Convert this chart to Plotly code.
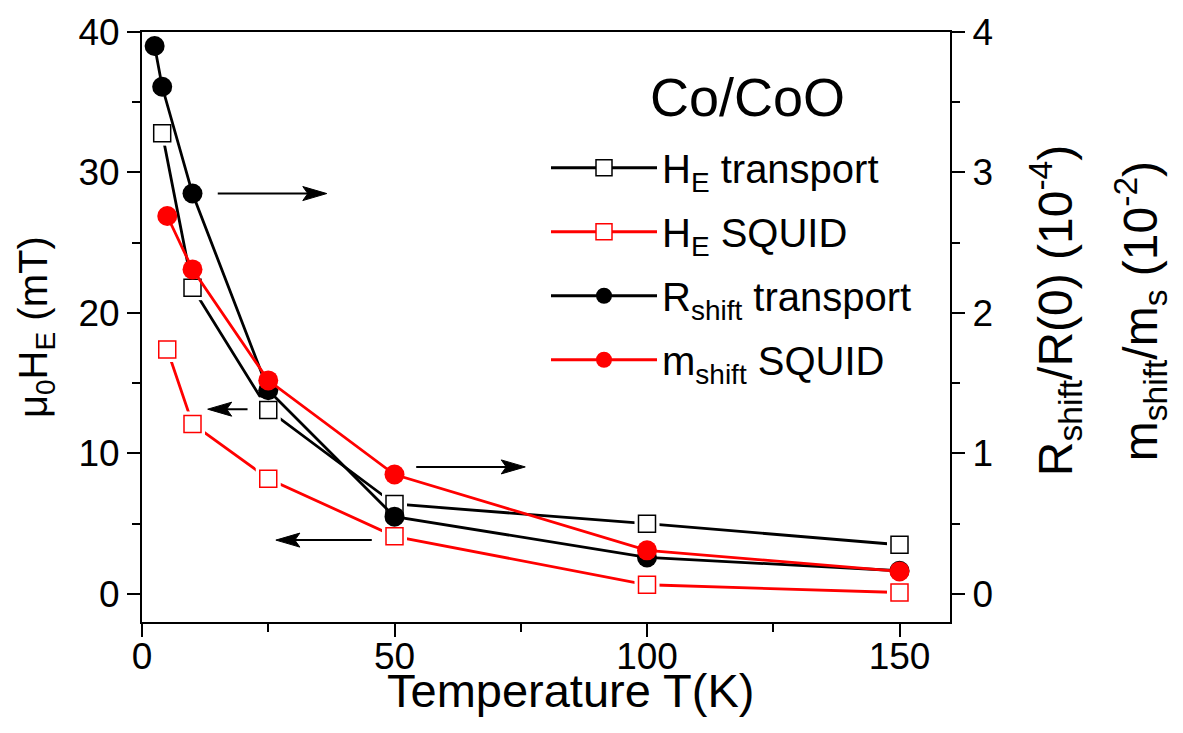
import plotly.graph_objects as go

# Exchange field from transport and SQUID (left axis, mT)
T_he_transport = [4, 10, 25, 50, 100, 150]
he_transport = [32.8, 21.8, 13.1, 6.4, 5.0, 3.5]
T_he_squid = [5, 10, 25, 50, 100, 150]
he_squid = [17.4, 12.1, 8.2, 4.1, 0.65, 0.1]

# Shift of resistance (1e-4) and magnetization (1e-2) (right axis)
T_r_shift = [2.5, 4, 10, 25, 50, 100, 150]
r_shift = [3.90, 3.61, 2.85, 1.45, 0.55, 0.26, 0.165]
T_m_shift = [5, 10, 25, 50, 100, 150]
m_shift = [2.69, 2.31, 1.52, 0.85, 0.31, 0.16]

# Arrows marking which axis a curve belongs to: (tail T, head T, level on left axis)
arrow_tail = [15.0, 20.9, 54.3, 45.5]
arrow_head = [35.8, 13.8, 75.1, 27.3]
arrow_level = [28.5, 13.15, 9.04, 3.83]

FONT = "Arial, Liberation Sans, sans-serif"
RED = "#ff0000"
BLACK = "#000000"

fig = go.Figure()

def square_series(x, y, color, name):
    # line + open squares; a white mask keeps the line off the square edges
    fig.add_trace(go.Scatter(
        x=x, y=y, mode="lines+markers", name=name, legendgroup=name,
        line=dict(color=color, width=2.8),
        marker=dict(symbol="square", size=17, color="white",
                    line=dict(color=color, width=1.5)),
        hoverinfo="skip"))
    fig.add_trace(go.Scatter(
        x=x, y=y, mode="markers", showlegend=False,
        marker=dict(symbol="square", size=25, color="white", line=dict(width=0)),
        hoverinfo="skip"))
    fig.add_trace(go.Scatter(
        x=x, y=y, mode="markers", showlegend=False,
        marker=dict(symbol="square", size=17, color="white",
                    line=dict(color=color, width=1.5)),
        hoverinfo="skip"))

square_series(T_he_transport, he_transport, BLACK, "H<sub>E</sub> transport")
square_series(T_he_squid, he_squid, RED, "H<sub>E</sub> SQUID")

for x, y, color, name in [
    (T_r_shift, r_shift, BLACK, "R<sub>shift</sub> transport"),
    (T_m_shift, m_shift, RED, "m<sub>shift</sub> SQUID"),
]:
    fig.add_trace(go.Scatter(
        x=x, y=y, mode="lines+markers", name=name, legendgroup=name, yaxis="y2",
        line=dict(color=color, width=2.8),
        marker=dict(symbol="circle", size=20, color=color, line=dict(width=0)),
        hoverinfo="skip"))

# arrow shafts in data units, heads as pixel-sized triangles anchored at the tip
for x0, x1, yv in zip(arrow_tail, arrow_head, arrow_level):
    d = 1 if x1 > x0 else -1
    fig.add_shape(type="line", xref="x", yref="y", x0=x0, x1=x1, y0=yv, y1=yv,
                  line=dict(color=BLACK, width=2))
    fig.add_shape(type="path", xref="x", yref="y",
                  xsizemode="pixel", ysizemode="pixel", xanchor=x1, yanchor=yv,
                  path=f"M{4*d},0 L{-20*d},7 L{-15*d},0 L{-20*d},-7 Z",
                  fillcolor=BLACK, line=dict(color=BLACK, width=1))

axis_common = dict(
    showline=True, linecolor=BLACK, linewidth=2,
    ticks="outside", ticklen=13, tickwidth=2, tickcolor=BLACK,
    showgrid=False, zeroline=False,
    tickfont=dict(family=FONT, size=37, color=BLACK),
)

fig.update_layout(
    width=1183, height=733,
    margin=dict(l=142, r=233, t=24, b=111),
    paper_bgcolor="white", plot_bgcolor="white",
    font=dict(family=FONT, color=BLACK),
    xaxis=dict(range=[0, 160], tickvals=[0, 50, 100, 150], mirror=True,
               ticklabelstandoff=-12,
               minor=dict(dtick=25, ticks="outside", ticklen=8, tickwidth=2,
                          tickcolor=BLACK),
               **axis_common),
    yaxis=dict(range=[-2, 40], tickvals=[0, 10, 20, 30, 40],
               minor=dict(dtick=5, ticks="outside", ticklen=8, tickwidth=2,
                          tickcolor=BLACK),
               **axis_common),
    yaxis2=dict(range=[-0.2, 4], tickvals=[0, 1, 2, 3, 4], overlaying="y",
                side="right",
                minor=dict(dtick=0.5, ticks="outside", ticklen=8, tickwidth=2,
                           tickcolor=BLACK),
                **axis_common),
    showlegend=True,
    legend=dict(x=0.50, y=0.825, xanchor="left", yanchor="top",
                bgcolor="rgba(0,0,0,0)", borderwidth=0,
                font=dict(family=FONT, size=40, color=BLACK),
                itemwidth=106, tracegroupgap=9),
)

def px_x(p):
    return (p - 142) / 808

def px_y(p):
    return (622 - p) / 598

texts = [
    ("Co/CoO", 747, 90, 0, 54),
    ("Temperature T(K)", 570, 691, 0, 47),
    ("μ<sub>0</sub>H<sub>E</sub> (mT)", 36, 323, -90, 40),
    ("R<sub>shift</sub>/R(0) (10<sup>-4</sup>)", 1055, 307, -90, 48),
    ("m<sub>shift</sub>/m<sub>s</sub> (10<sup>-2</sup>)", 1140, 307, -90, 48),
]
for t, x, y, ang, sz in texts:
    fig.add_annotation(
        text=t, x=px_x(x), y=px_y(y), xref="paper", yref="paper",
        xanchor="center", yanchor="middle", showarrow=False, textangle=ang,
        font=dict(family=FONT, size=sz, color=BLACK))

fig.write_html("out.html")
